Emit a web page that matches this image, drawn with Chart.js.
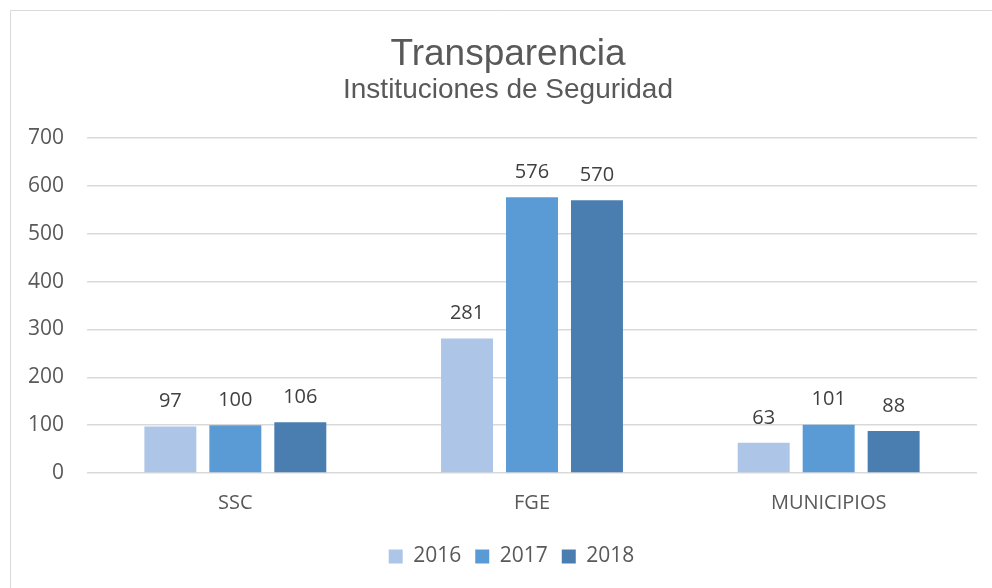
<!DOCTYPE html>
<html>
<head>
<meta charset="utf-8">
<script src="https://cdn.jsdelivr.net/npm/chart.js@4"></script>
<style>
  html, body { margin: 0; padding: 0; background: #fff; }
  #wrap { width: 992px; height: 588px; }
</style>
</head>
<body>
<div id="wrap"><canvas id="chart" width="992" height="588"></canvas></div>
<script>
const categories = ['SSC', 'FGE', 'MUNICIPIOS'];
const years = ['2016', '2017', '2018'];
const values2016 = [97, 281, 63];
const values2017 = [100, 576, 101];
const values2018 = [106, 570, 88];
const yTicks = [0, 100, 200, 300, 400, 500, 600, 700];
const titleText = 'Transparencia';
const subtitleText = 'Instituciones de Seguridad';

const COLORS = ['#adc5e7', '#5b9bd5', '#4a7eb0'];
const TEXT = '#595959';

// marco gris y titulos (el marco original sigue mas alla del borde derecho)
const framePlugin = {
  id: 'frame',
  afterLayout(chart) {
    // la leyenda del original esta centrada en el marco completo, no en el lienzo
    chart.legend.left += 23;
    chart.legend.right += 23;
  },
  beforeDraw(chart) {
    const ctx = chart.ctx;
    ctx.save();
    ctx.strokeStyle = '#d9d9d9';
    ctx.lineWidth = 1;
    ctx.beginPath();
    ctx.moveTo(10.5, chart.height);
    ctx.lineTo(10.5, 10.5);
    ctx.lineTo(chart.width, 10.5);
    ctx.stroke();

    ctx.fillStyle = TEXT;
    ctx.textAlign = 'center';
    ctx.textBaseline = 'alphabetic';
    ctx.font = '37px "Liberation Sans"';
    ctx.fillText(titleText, 508, 65);
    ctx.font = '28px "Liberation Sans"';
    ctx.fillText(subtitleText, 508, 98);
    ctx.restore();
  },
};

// etiquetas de valor sobre las barras
const valueLabels = {
  id: 'valueLabels',
  afterDatasetsDraw(chart) {
    const ctx = chart.ctx;
    ctx.save();
    ctx.font = '20px "Open Sans"';
    ctx.fillStyle = '#404040';
    ctx.textAlign = 'center';
    ctx.textBaseline = 'middle';
    chart.data.datasets.forEach((ds, i) => {
      chart.getDatasetMeta(i).data.forEach((bar, j) => {
        ctx.fillText(ds.data[j], bar.x, bar.y - 25);
      });
    });
    ctx.restore();
  },
};

const seriesValues = [values2016, values2017, values2018];

new Chart(document.getElementById('chart'), {
  type: 'bar',
  data: {
    labels: categories,
    datasets: years.map((y, i) => ({
      label: y,
      data: seriesValues[i],
      backgroundColor: COLORS[i],
      categoryPercentage: 0.657,
      barPercentage: 0.8,
    })),
  },
  options: {
    responsive: false,
    animation: false,
    layout: { padding: { top: 138, right: 15, bottom: 11, left: 0 } },
    scales: {
      x: {
        grid: { display: false },
        border: { display: false },
        afterFit: (scale) => { scale.height = 59; },
        ticks: { color: TEXT, font: { family: 'Open Sans', size: 20 }, padding: 10 },
      },
      y: {
        min: 0, max: 700,
        afterBuildTicks: (scale) => { scale.ticks = yTicks.map(v => ({ value: v })); },
        afterFit: (scale) => { scale.width = 87; },
        grid: { color: '#d9d9d9', lineWidth: 1.5, drawTicks: false },
        border: { display: false },
        ticks: { color: TEXT, font: { family: 'Open Sans', size: 21 }, padding: 23 },
      },
    },
    plugins: {
      legend: {
        position: 'bottom',
        labels: {
          color: TEXT,
          font: { family: 'Open Sans', size: 21 },
          boxWidth: 14,
          boxHeight: 14,
          padding: 14,
        },
      },
      tooltip: { enabled: false },
    },
  },
  plugins: [framePlugin, valueLabels],
});
</script>
</body>
</html>
